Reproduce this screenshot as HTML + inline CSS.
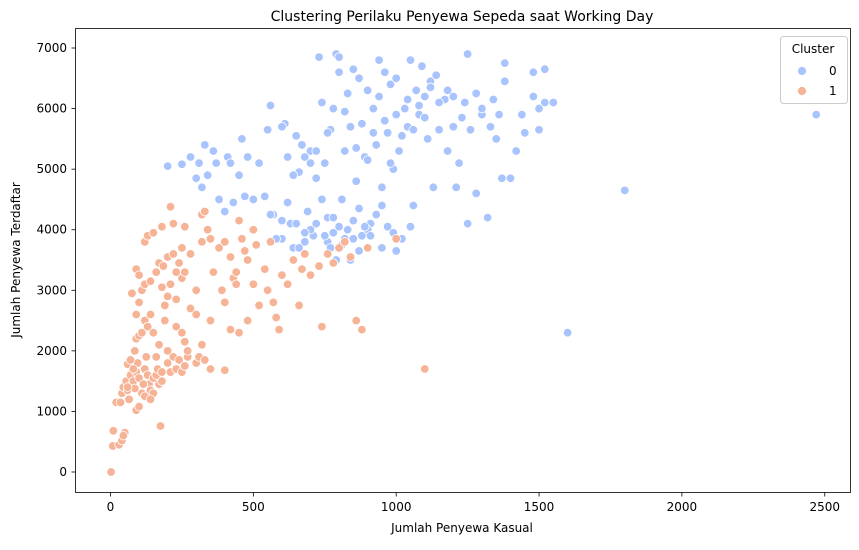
<!DOCTYPE html>
<html><head><meta charset="utf-8"><style>
body{margin:0;background:#fff;font-family:"Liberation Sans","DejaVu Sans",sans-serif}
svg text{font-family:"DejaVu Sans","Liberation Sans",sans-serif;fill:#000}
</style></head><body>
<svg id="chart" width="859" height="545" viewBox="0 0 859 545" xmlns="http://www.w3.org/2000/svg">
<text x="462" y="21" font-size="14" text-anchor="middle">Clustering Perilaku Penyewa Sepeda saat Working Day</text>
<rect x="75.5" y="28.5" width="775" height="464" fill="none" stroke="#000" stroke-width="0.8"/>
<g id="ticks"></g>
<g id="points"></g>
<text x="462" y="532" font-size="12" text-anchor="middle">Jumlah Penyewa Kasual</text>
<text transform="translate(20,260) rotate(-90)" font-size="12" text-anchor="middle">Jumlah Penyewa Terdaftar</text>
<g>
<rect x="780.5" y="36.5" width="67" height="67" rx="3" fill="#fff" fill-opacity="0.8" stroke="#ccc"/>
<text x="813" y="53" font-size="12" text-anchor="middle">Cluster</text>
<g><circle cx="802" cy="71" r="4.5" fill="#a9c4fc" stroke="#fff" stroke-width="0.8"/><text x="829" y="75" font-size="12">0</text></g>
<g><circle cx="802" cy="91" r="4.5" fill="#f6b396" stroke="#fff" stroke-width="0.8"/><text x="829" y="95" font-size="12">1</text></g>
</g>
</svg>
<script>
const xTicks=[0,500,1000,1500,2000,2500];
const yTicks=[0,1000,2000,3000,4000,5000,6000,7000];
const cluster1=[[2,0],[8,430],[10,680],[30,450],[40,520],[50,650],[45,600],[20,1150],[35,1150],[40,1300],[45,1400],[55,1500],[60,1350],[70,1600],[75,1450],[80,1500],[85,1380],[90,1650],[95,1800],[100,1550],[90,1020],[100,1080],[110,1300],[120,1250],[120,1700],[130,1600],[135,1450],[140,1350],[150,1550],[160,1600],[165,1700],[170,1450],[180,1500],[180,1650],[175,760],[200,1800],[210,1650],[220,1900],[230,1700],[240,1850],[250,1650],[260,1750],[270,1900],[300,1800],[310,1900],[320,2100],[330,1850],[350,1700],[400,1680],[60,1780],[70,1850],[85,2000],[90,2200],[100,2250],[110,2300],[120,2500],[130,2400],[140,2600],[90,2600],[100,2800],[110,3000],[120,3100],[75,2950],[120,3800],[130,3900],[150,3950],[90,3350],[100,3250],[140,3150],[160,3300],[170,3450],[180,3050],[185,3400],[190,2750],[200,3550],[210,3100],[220,3600],[230,2850],[240,3450],[250,3200],[180,4050],[210,4380],[220,4100],[260,4050],[230,2400],[250,2300],[260,2150],[270,2000],[280,2700],[300,3000],[320,3800],[320,4250],[330,4300],[340,4000],[350,3850],[360,3300],[380,3700],[400,3800],[420,3550],[430,3200],[440,3100],[450,4150],[460,3850],[480,3500],[500,3100],[510,3750],[520,2750],[540,3350],[550,3000],[560,3800],[570,2800],[580,2550],[590,2350],[600,3250],[620,3100],[640,3500],[660,2750],[670,3350],[680,3600],[700,3250],[730,3400],[740,2400],[760,3600],[780,3450],[800,3700],[820,3800],[840,3550],[860,2500],[880,2350],[900,3700],[1000,3850],[1100,1700],[420,2350],[450,2300],[480,2500],[400,2800],[350,2500],[300,2600],[280,3600],[260,3300],[200,2000],[190,2500],[170,2100],[160,1900],[150,1300],[140,1200],[200,2900],[230,3300],[250,3700],[500,4000],[470,3650],[440,3300],[390,3000],[150,2300],[80,1700],[60,1400],[65,1200],[125,1900],[115,1450]];
const cluster0=[[200,5050],[250,5080],[280,5200],[300,4850],[310,5100],[320,4700],[330,5400],[340,4900],[360,5300],[370,5100],[380,4500],[400,4300],[410,5200],[420,5100],[430,4450],[450,4900],[460,5500],[470,4550],[480,5200],[500,4500],[520,5100],[540,4550],[550,5650],[560,6050],[570,4250],[600,3850],[610,5750],[620,5200],[630,4100],[640,3700],[650,5550],[660,4950],[670,5400],[680,3800],[690,4300],[700,5300],[710,3900],[720,4100],[730,6850],[740,6100],[750,5100],[760,4200],[770,5650],[780,3950],[790,6900],[800,6850],[810,4500],[820,5300],[830,6250],[840,3500],[850,6650],[860,4800],[870,6500],[880,3900],[890,5200],[900,6300],[910,4100],[920,6000],[930,5400],[940,6800],[950,4700],[960,6600],[970,5600],[980,6400],[990,5000],[1000,6500],[1010,5300],[1020,3850],[1030,6000],[1040,5700],[1050,6800],[1060,4400],[1070,6300],[1080,5900],[1090,6700],[1100,6200],[1110,5500],[1120,6450],[1140,6550],[1150,5650],[1170,6150],[1180,5300],[1200,6200],[1210,4700],[1230,5850],[1250,6900],[1260,5650],[1280,6250],[1300,5900],[1320,4200],[1340,6150],[1350,5500],[1370,4850],[1380,6750],[1400,4850],[1420,5300],[1440,5900],[1480,6200],[1500,6000],[1520,6650],[1550,6100],[1600,2300],[1800,4650],[2470,5900],[1250,4100],[1280,4600],[1220,5100],[1130,4700],[1050,4050],[1000,3650],[950,3700],[900,4000],[870,4350],[850,4150],[820,3850],[800,4050],[780,4200],[760,3800],[740,4500],[720,4850],[700,4000],[680,3950],[660,3700],[650,4100],[620,4450],[600,4150],[580,3850],[560,4250],[750,3900],[770,3700],[790,3500],[810,3750],[830,4000],[850,3850],[870,3650],[890,4050],[910,3900],[930,4250],[950,4400],[970,4050],[990,3950],[820,5950],[840,5700],[860,5350],[880,5750],[900,5150],[920,5600],[940,6200],[960,5800],[980,5100],[1000,5900],[1020,5550],[1040,6150],[1060,5650],[1080,6050],[1100,5850],[1120,6350],[1150,6100],[1180,6300],[1200,5700],[1240,6100],[1300,6000],[1330,5700],[1450,5600],[1500,5650],[700,5100],[720,5300],[680,5200],[640,4900],[600,5700],[760,5600],[780,6000],[800,6600],[1520,6100],[1480,6600],[1380,6450],[1360,5900]];
const NS="http://www.w3.org/2000/svg";
function xs(v){return 110.5+v*0.2857;}
function ys(v){return 472-v*0.06057;}
const tg=document.getElementById('ticks');
function mk(tag,at,parent){const e=document.createElementNS(NS,tag);for(const k in at)e.setAttribute(k,at[k]);parent.appendChild(e);return e;}
xTicks.forEach(t=>{
  const l=mk('line',{x1:xs(t),x2:xs(t),y1:492.5,y2:496.5,stroke:'#000','stroke-width':0.8},tg);
  
  
  const tx=mk('text',{x:xs(t),y:511,'font-size':12,'text-anchor':'middle'},tg);tx.textContent=t;
  
  
});
yTicks.forEach(t=>{
  const l=mk('line',{x1:71.5,x2:75.5,y1:ys(t),y2:ys(t),stroke:'#000','stroke-width':0.8},tg);
  
  
  const tx=mk('text',{x:67,y:ys(t)+4,'font-size':12,'text-anchor':'end'},tg);tx.textContent=t;
  
  
});
const pg=document.getElementById('points');
function draw(arr,color,name){arr.forEach(p=>{
  const c=mk('circle',{cx:xs(p[0]),cy:ys(p[1]),r:4.3,fill:color,stroke:'#fff','stroke-width':0.8},pg);
  
  
});}
draw(cluster0,'#a9c4fc','point-cluster-0');
draw(cluster1,'#f6b396','point-cluster-1');
</script>
</body></html>
